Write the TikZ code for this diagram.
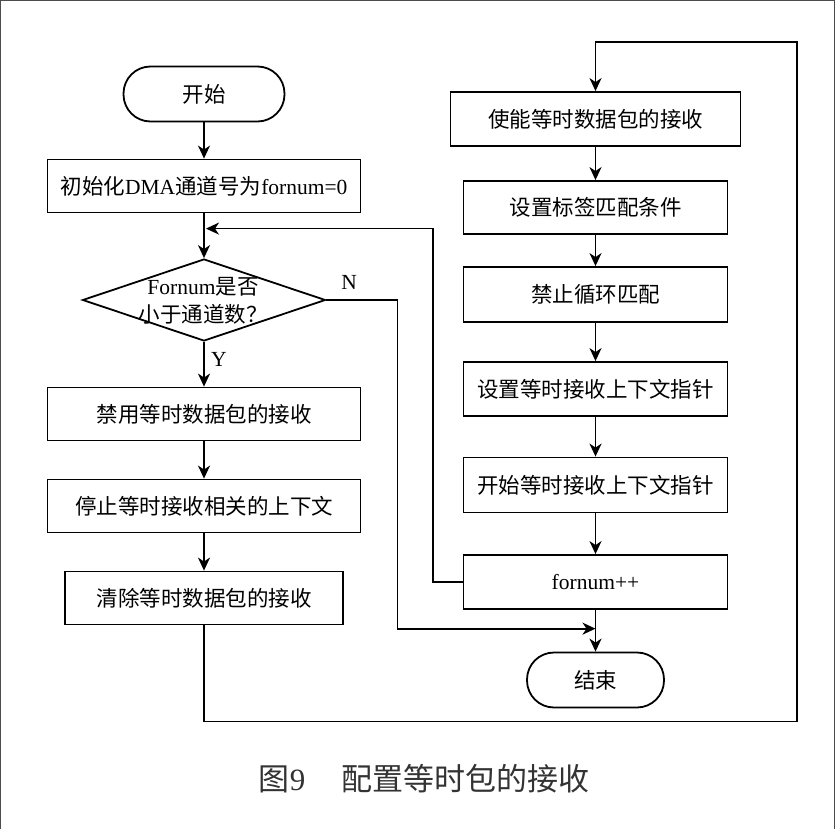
\documentclass[tikz,border=0pt]{standalone}
\usepackage{fontspec}
\setmainfont{Liberation Serif}
\newfontfamily\cjk{Noto Sans CJK SC}
\usepackage{tikz}
\usetikzlibrary{calc, shapes.geometric, arrows.meta}

\begin{document}
\begin{tikzpicture}[x=1pt, y=-1pt, line width=1.8pt, font=\fontsize{21.5}{28}\selectfont,
        proc/.style={draw, rectangle, minimum height=53pt, inner sep=0pt},
        term/.style={draw, rectangle, rounded corners=27pt, minimum height=55pt, inner sep=0pt},
        flow/.style={-{Stealth[length=13pt, width=12pt, inset=4pt]}}]
        \useasboundingbox (0,0) rectangle (835,829);
        \draw[black!70, line width=1.2pt] (0.6,829) -- (0.6,0.6) -- (834.4,0.6) -- (834.4,829);

        \node[term, minimum width=161pt] (start) at (204,94) {\cjk 开始};
        \node[proc, minimum width=313pt] (init) at (204,186) {{\cjk 初始化}DMA{\cjk 通道号为}fornum=0};
        \node[draw, diamond, minimum width=243pt, minimum height=82pt, inner sep=0pt] (dec) at (204,300) {};
        \node[align=center, inner sep=0pt] (dectext) at (203,301) {Fornum{\cjk 是否}\\{\cjk 小于通道数？}};
        \node[proc, minimum width=313pt] (b1) at (204,414) {\cjk 禁用等时数据包的接收};
        \node[proc, minimum width=313pt] (b2) at (204,506) {\cjk 停止等时接收相关的上下文};
        \node[proc, minimum width=278pt] (b3) at (204,598) {\cjk 清除等时数据包的接收};

        \node[proc, minimum width=290pt, minimum height=54pt] (r1) at (595.5,119) {\cjk 使能等时数据包的接收};
        \node[proc, minimum width=264pt] (r2) at (595.5,207.5) {\cjk 设置标签匹配条件};
        \node[proc, minimum width=264pt, minimum height=55pt] (r3) at (595.5,294.5) {\cjk 禁止循环匹配};
        \node[proc, minimum width=264pt, minimum height=54pt] (r4) at (595.5,389) {\cjk 设置等时接收上下文指针};
        \node[proc, minimum width=264pt, minimum height=55pt] (r5) at (595.5,485) {\cjk 开始等时接收上下文指针};
        \node[proc, minimum width=264pt, minimum height=54pt] (r6) at (595.5,582) {fornum++};
        \node[term, minimum width=137pt] (end) at (595.5,680) {\cjk 结束};

        \coordinate (ljoin) at ($(init.south)!0.34!(dec.north)$);
        \coordinate (nmerge) at ($(r6.south)!0.45!(end.north)$);
        \coordinate (outer) at (797,42);

        \draw[flow] (start) -- (init);
        \draw[flow] (init) -- (dec);
        \draw[flow] (dec) -- node[right, xshift=3pt, pos=0.4] {Y} (b1);
        \draw[flow] (b1) -- (b2);
        \draw[flow] (b2) -- (b3);
        \draw[flow] (dec.east) -- node[above=6pt, pos=0.32] {N} ++(71,0) |- (nmerge);
        \draw[flow, shorten >=2pt] (r6.west) -- ++(-30,0) |- (ljoin);
        \draw[flow] (b3.south) |- ++(593,96) -- (outer) -| (r1.north);
        \foreach \a/\b in {r1/r2, r2/r3, r3/r4, r4/r5, r5/r6}
                \draw[flow] (\a) -- (\b);
        \draw[flow] (r6) -- (end);

        \node[text=black!80] (cap) at (424,779) {\fontsize{31}{31}\selectfont{\cjk 图}9\hspace{36pt}{\cjk 配置等时包的接收}};
\end{tikzpicture}
\end{document}
